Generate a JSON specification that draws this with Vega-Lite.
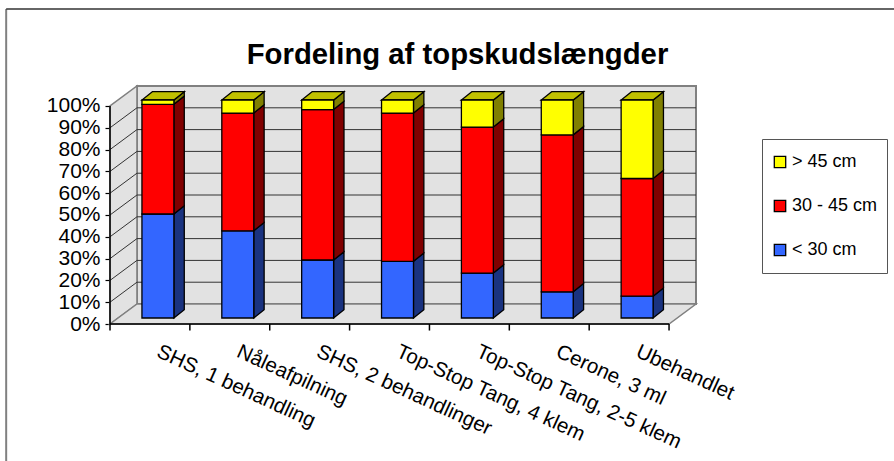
{"$schema":"https://vega.github.io/schema/vega-lite/v6.json","width":586,"height":238,"autosize":"none","padding":{"left":110,"top":86,"right":198,"bottom":137},"background":"white","title":{"text":"Fordeling af topskudslængder","font":"Liberation Sans","fontSize":29.3,"fontWeight":"bold","color":"black","anchor":"middle","dx":54.5,"offset":-62},"config":{"view":{"stroke":null},"axis":{"title":null,"tickColor":"black","tickSize":5,"tickWidth":1.2,"grid":false,"domain":false,"labelOverlap":false}},"resolve":{"axis":{"x":"independent","y":"independent"}},"layer":[{"data":{"values":[{"d":0},{"d":1}]},"transform":[{"calculate":"datum.d*0.3375","as":"dx"},{"calculate":"datum.d*9.17","as":"dy"},{"calculate":"datum.d*9.17+100","as":"dy2"},{"calculate":"datum.d*0.3375+7","as":"dx2"}],"resolve":{"axis":{"x":"independent","y":"independent"}},"layer":[{"mark":{"type":"rect","fill":"#e2e2e2","stroke":"#808080","strokeWidth":2},"encoding":{"x":{"datum":0.3375,"type":"quantitative","scale":{"domain":[0,7.3375],"nice":false},"axis":null},"x2":{"datum":7.3375},"y":{"datum":9.17,"type":"quantitative","scale":{"domain":[0,109.17],"nice":false},"axis":{"values":[0,10,20,30,40,50,60,70,80,90,100],"labelExpr":"datum.value+'%'","labelOverlap":false,"labelFont":"Liberation Sans","labelFontSize":21,"labelColor":"black","labelPadding":5}},"y2":{"datum":109.17}}},{"mark":{"type":"area","fill":"#e2e2e2","stroke":"#808080","strokeWidth":1.5},"encoding":{"x":{"field":"dx","type":"quantitative","scale":{"domain":[0,7.3375],"nice":false},"axis":null},"y":{"field":"dy","type":"quantitative","scale":{"domain":[0,109.17],"nice":false},"axis":null},"y2":{"field":"dy2"}}},{"mark":{"type":"area","orient":"horizontal","fill":"#e2e2e2","stroke":"#808080","strokeWidth":1.5},"encoding":{"y":{"field":"dy","type":"quantitative","scale":{"domain":[0,109.17],"nice":false},"axis":null},"x":{"field":"dx","type":"quantitative","scale":{"domain":[0,7.3375],"nice":false},"axis":null},"x2":{"field":"dx2"}}}]},{"data":{"values":[{"v":10},{"v":20},{"v":30},{"v":40},{"v":50},{"v":60},{"v":70},{"v":80},{"v":90}]},"transform":[{"calculate":"datum.v+9.17","as":"w"}],"resolve":{"axis":{"x":"independent","y":"independent"}},"layer":[{"mark":{"type":"rule","stroke":"#333333","strokeWidth":1},"encoding":{"x":{"datum":0.3375,"type":"quantitative","scale":{"domain":[0,7.3375],"nice":false},"axis":null},"x2":{"datum":7.3375},"y":{"field":"w","type":"quantitative","scale":{"domain":[0,109.17],"nice":false},"axis":null}}},{"mark":{"type":"rule","stroke":"#333333","strokeWidth":1},"encoding":{"x":{"datum":0,"type":"quantitative","scale":{"domain":[0,7.3375],"nice":false},"axis":null},"x2":{"datum":0.3375},"y":{"field":"v","type":"quantitative","scale":{"domain":[0,109.17],"nice":false},"axis":null},"y2":{"field":"w"}}}]},{"data":{"values":[{"t":0,"a":0,"b":-3},{"t":1,"a":0,"b":-3},{"t":2,"a":0,"b":-3},{"t":3,"a":0,"b":-3},{"t":4,"a":0,"b":-3},{"t":5,"a":0,"b":-3},{"t":6,"a":0,"b":-3},{"t":7,"a":0,"b":-3}]},"resolve":{"axis":{"x":"independent","y":"independent"}},"layer":[{"mark":{"type":"rule","stroke":"black","strokeWidth":1.5},"encoding":{"x":{"field":"t","type":"quantitative","scale":{"domain":[0,7.3375],"nice":false},"axis":null},"y":{"field":"a","type":"quantitative","scale":{"domain":[0,109.17],"nice":false},"axis":null},"y2":{"field":"b"}}}]},{"data":{"values":[{"v":0}]},"resolve":{"axis":{"x":"independent","y":"independent"}},"layer":[{"mark":{"type":"rule","stroke":"black","strokeWidth":1.5},"encoding":{"x":{"datum":0,"type":"quantitative","scale":{"domain":[0,7.3375],"nice":false},"axis":null},"y":{"datum":0,"type":"quantitative","scale":{"domain":[0,109.17],"nice":false},"axis":null},"y2":{"datum":100}}},{"mark":{"type":"rule","stroke":"black","strokeWidth":1.5},"encoding":{"x":{"datum":0,"type":"quantitative","scale":{"domain":[0,7.3375],"nice":false},"axis":null},"x2":{"datum":7},"y":{"datum":0,"type":"quantitative","scale":{"domain":[0,109.17],"nice":false},"axis":null}}},{"mark":{"type":"rule","stroke":"#808080","strokeWidth":2},"encoding":{"x":{"datum":-1.3,"type":"quantitative","scale":{"domain":[0,7.3375],"nice":false},"axis":null},"y":{"datum":144.5,"type":"quantitative","scale":{"domain":[0,109.17],"nice":false},"axis":null},"y2":{"datum":-63}}},{"mark":{"type":"rule","stroke":"#333333","strokeWidth":1.5},"encoding":{"x":{"datum":-1.3,"type":"quantitative","scale":{"domain":[0,7.3375],"nice":false},"axis":null},"x2":{"datum":9.9},"y":{"datum":144.5,"type":"quantitative","scale":{"domain":[0,109.17],"nice":false},"axis":null}}}]},{"data":{"values":[{"behandling":"SHS, 1 behandling","serie":"< 30 cm","andel":47.7},{"behandling":"SHS, 1 behandling","serie":"30 - 45 cm","andel":50.3},{"behandling":"SHS, 1 behandling","serie":"> 45 cm","andel":2},{"behandling":"Nåleafpilning","serie":"< 30 cm","andel":40},{"behandling":"Nåleafpilning","serie":"30 - 45 cm","andel":54},{"behandling":"Nåleafpilning","serie":"> 45 cm","andel":6},{"behandling":"SHS, 2 behandlinger","serie":"< 30 cm","andel":26.6},{"behandling":"SHS, 2 behandlinger","serie":"30 - 45 cm","andel":69},{"behandling":"SHS, 2 behandlinger","serie":"> 45 cm","andel":4.4},{"behandling":"Top-Stop Tang, 4 klem","serie":"< 30 cm","andel":26},{"behandling":"Top-Stop Tang, 4 klem","serie":"30 - 45 cm","andel":68},{"behandling":"Top-Stop Tang, 4 klem","serie":"> 45 cm","andel":6},{"behandling":"Top-Stop Tang, 2-5 klem","serie":"< 30 cm","andel":20.6},{"behandling":"Top-Stop Tang, 2-5 klem","serie":"30 - 45 cm","andel":67},{"behandling":"Top-Stop Tang, 2-5 klem","serie":"> 45 cm","andel":12.4},{"behandling":"Cerone, 3 ml","serie":"< 30 cm","andel":12},{"behandling":"Cerone, 3 ml","serie":"30 - 45 cm","andel":72},{"behandling":"Cerone, 3 ml","serie":"> 45 cm","andel":16},{"behandling":"Ubehandlet","serie":"< 30 cm","andel":10},{"behandling":"Ubehandlet","serie":"30 - 45 cm","andel":54},{"behandling":"Ubehandlet","serie":"> 45 cm","andel":36}]},"transform":[{"calculate":"indexof(['< 30 cm','30 - 45 cm','> 45 cm'],datum.serie)","as":"rang"},{"calculate":"indexof(['SHS, 1 behandling','Nåleafpilning','SHS, 2 behandlinger','Top-Stop Tang, 4 klem','Top-Stop Tang, 2-5 klem','Cerone, 3 ml','Ubehandlet'],datum.behandling)","as":"i"},{"stack":"andel","groupby":["behandling"],"sort":[{"field":"rang","order":"ascending"}],"as":["s0","s1"]},{"calculate":"datum.i+0.4","as":"fx"},{"calculate":"datum.i+0.8","as":"fx2"},{"calculate":"datum.s0+2.75","as":"fy"},{"calculate":"datum.s1+2.75","as":"fy2"},{"calculate":"datum.i+0.5","as":"mid"},{"calculate":"[0,1]","as":"d"}],"resolve":{"axis":{"x":"independent","y":"independent"}},"layer":[{"transform":[{"flatten":["d"]},{"calculate":"datum.fx2+datum.d*0.13","as":"sx"},{"calculate":"datum.fy+datum.d*3.8","as":"sy"},{"calculate":"datum.fy2+datum.d*3.8","as":"sy2"}],"mark":{"type":"area","stroke":"black","strokeWidth":1.3},"encoding":{"x":{"field":"sx","type":"quantitative","scale":{"domain":[0,7.3375],"nice":false},"axis":null},"y":{"field":"sy","type":"quantitative","scale":{"domain":[0,109.17],"nice":false},"axis":null},"y2":{"field":"sy2"},"detail":{"field":"behandling"},"fill":{"field":"serie","type":"nominal","scale":{"domain":["< 30 cm","30 - 45 cm","> 45 cm"],"range":["#1a3380","#800000","#808000"]},"legend":null}}},{"transform":[{"filter":"datum.serie==='> 45 cm'"},{"flatten":["d"]},{"calculate":"datum.fx+datum.d*0.13","as":"tx"},{"calculate":"datum.fx2+datum.d*0.13","as":"tx2"},{"calculate":"datum.fy2+datum.d*3.8","as":"ty"}],"mark":{"type":"area","orient":"horizontal","fill":"#c0c000","stroke":"black","strokeWidth":1.3},"encoding":{"y":{"field":"ty","type":"quantitative","scale":{"domain":[0,109.17],"nice":false},"axis":null},"x":{"field":"tx","type":"quantitative","scale":{"domain":[0,7.3375],"nice":false},"axis":null},"x2":{"field":"tx2"},"detail":{"field":"behandling"}}},{"mark":{"type":"rect","stroke":"black","strokeWidth":1.3},"encoding":{"x":{"field":"fx","type":"quantitative","scale":{"domain":[0,7.3375],"nice":false},"axis":null},"x2":{"field":"fx2"},"y":{"field":"fy","type":"quantitative","scale":{"domain":[0,109.17],"nice":false},"axis":null},"y2":{"field":"fy2"},"color":{"field":"serie","type":"nominal","scale":{"domain":["> 45 cm","30 - 45 cm","< 30 cm"],"range":["#ffff00","#ff0000","#3366ff"]},"legend":{"title":null,"orient":"none","legendX":652,"legendY":53,"symbolType":"square","symbolSize":130,"symbolStrokeColor":"black","symbolStrokeWidth":1.3,"symbolOpacity":1,"labelFont":"Liberation Sans","labelFontSize":18,"labelColor":"black","labelOffset":3,"clipHeight":28,"rowPadding":16,"padding":9,"strokeColor":"#555555","fillColor":"white"}}}},{"transform":[{"filter":"datum.serie==='< 30 cm'"}],"mark":{"type":"text","font":"Liberation Sans","fontSize":20.6,"angle":24.6,"align":"left","baseline":"middle","color":"black","dx":18.5,"dy":21},"encoding":{"x":{"field":"mid","type":"quantitative","scale":{"domain":[0,7.3375],"nice":false},"axis":null},"y":{"datum":0,"type":"quantitative","scale":{"domain":[0,109.17],"nice":false},"axis":null},"text":{"field":"behandling"}}}]}]}
